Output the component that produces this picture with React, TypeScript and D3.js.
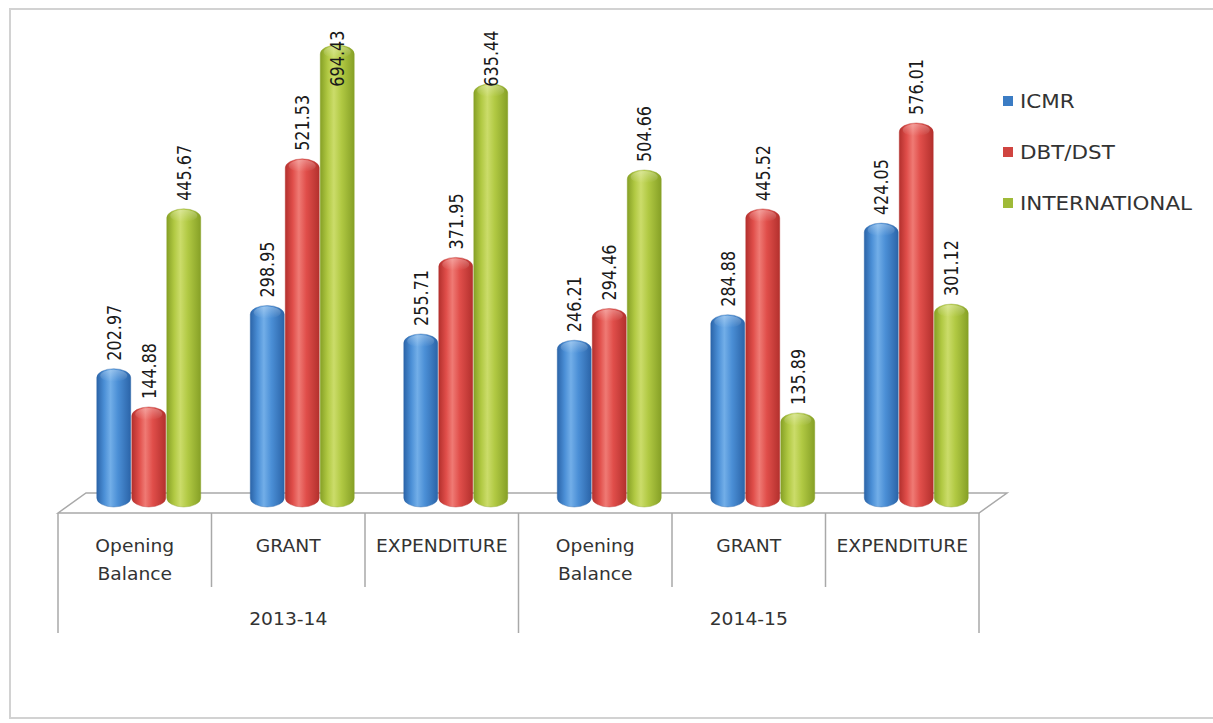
import React from "react";
import * as d3 from "d3";

// Funding by source, two financial years, three heads each
const years = ["2013-14", "2014-15"];
const heads = ["Opening Balance", "GRANT", "EXPENDITURE"];
const categories = ["2013-14|Opening Balance", "2013-14|GRANT", "2013-14|EXPENDITURE", "2014-15|Opening Balance", "2014-15|GRANT", "2014-15|EXPENDITURE"];
const seriesNames = ["ICMR", "DBT/DST", "INTERNATIONAL"];
const icmr = [202.97, 298.95, 255.71, 246.21, 284.88, 424.05];
const dbtDst = [144.88, 521.53, 371.95, 294.46, 445.52, 576.01];
const international = [445.67, 694.43, 635.44, 504.66, 135.89, 301.12];
const seriesValues = [icmr, dbtDst, international];

const palettes = [
  { id: "cylBlue", edge: "#2b64a8", mid: "#4b8fd6", hi: "#72aee8", swatch: "#3b7cc4" },
  { id: "cylRed", edge: "#b3302d", mid: "#e04e4a", hi: "#ef7a74", swatch: "#d04440" },
  { id: "cylGreen", edge: "#86a026", mid: "#b1c943", hi: "#cbdc6a", swatch: "#9fba38" },
];

const W = 1213;
const H = 723;
const FONT = "'DejaVu Sans', sans-serif";
const GRID = "#a9a9a9";
const STRETCH = 1.1;

export default function App() {
  // floor geometry
  const frontLeft = 58;
  const frontRight = 979;
  const frontY = 513;
  const depthX = 28;
  const depthY = 20;

  const x0 = d3.scaleBand<string>().domain(categories).range([frontLeft, frontRight]).padding(0);
  const groupW = 105;
  const x1 = d3.scaleBand<string>().domain(seriesNames).range([0, groupW]).padding(0);
  const y = d3.scaleLinear().domain([0, 700]).range([502.4, 502.4 - 700 * 0.6587]);

  const barBottom = 507;
  const capRy = 9;
  const labelSize = 16;
  const plotTop = 30;

  const yearScale = d3.scaleBand<string>().domain(years).range([frontLeft, frontRight]);

  return (
    <svg width={W} height={H} style={{ position: "absolute", left: 0, top: 0, background: "#fff" }} fontFamily={FONT}>
      <defs>
        {palettes.map((p) => (
          <linearGradient key={p.id} id={p.id} x1="0" x2="1" y1="0" y2="0">
            <stop offset="0%" stopColor={p.edge} />
            <stop offset="22%" stopColor={p.mid} />
            <stop offset="40%" stopColor={p.hi} />
            <stop offset="62%" stopColor={p.mid} />
            <stop offset="100%" stopColor={p.edge} />
          </linearGradient>
        ))}
        <linearGradient id="capShine" x1="0" x2="0" y1="0" y2="1">
          <stop offset="0%" stopColor="#fff" stopOpacity={0.3} />
          <stop offset="100%" stopColor="#fff" stopOpacity={0} />
        </linearGradient>
      </defs>

      {/* chart frame */}
      <rect x={10} y={9} width={1230} height={709} fill="none" stroke="#d2d2d2" strokeWidth={2} />

      {/* floor plane */}
      <path
        d={`M${frontLeft},${frontY} L${frontLeft + depthX},${frontY - depthY} L${frontRight + depthX},${frontY - depthY} L${frontRight},${frontY} Z`}
        fill="#fff"
        stroke={GRID}
        strokeWidth={1.5}
      />

      {/* bars */}
      {categories.map((c, ci) => {
        const gx = (x0(c) as number) + (x0.bandwidth() - groupW) / 2 + depthX / 2;
        return (
          <g key={c} transform={`translate(${gx},0)`}>
            {seriesNames.map((s, si) => {
              const v = seriesValues[si][ci];
              const bx = x1(s) as number;
              const bw = x1.bandwidth();
              const top = y(v);
              const p = palettes[si];
              return (
                <g key={s}>
                  <rect x={bx + 0.5} y={top} width={bw - 1} height={barBottom - top} rx={bw / 2 - 0.5} ry={capRy} fill={`url(#${p.id})`} stroke={p.edge} strokeOpacity={0.5} strokeWidth={0.8} />
                  <rect x={bx + 4} y={top + 1} width={bw - 8} height={12} rx={(bw - 8) / 2} ry={6} fill="url(#capShine)" />
                </g>
              );
            })}
          </g>
        );
      })}

      {/* value labels */}
      {categories.map((c, ci) => {
        const gx = (x0(c) as number) + (x0.bandwidth() - groupW) / 2 + depthX / 2;
        return seriesNames.map((s, si) => {
          const v = seriesValues[si][ci];
          const cx = gx + (x1(s) as number) + x1.bandwidth() / 2;
          const text = v.toFixed(2);
          const len = text.length * labelSize * 0.59;
          const start = Math.max(y(v) - 8, plotTop + len);
          return (
            <text key={`${c}-${s}`} transform={`translate(${cx},${start}) rotate(-90) scale(1,1.25)`} dy="0.36em" fontSize={labelSize} fill="#1a1a1a">
              {text}
            </text>
          );
        });
      })}

      {/* category separators and labels */}
      {categories.map((c, ci) => {
        const left = x0(c) as number;
        const center = left + x0.bandwidth() / 2;
        const head = heads[ci % heads.length];
        const words = head === "Opening Balance" ? ["Opening", "Balance"] : [head];
        return (
          <g key={`lab-${c}`}>
            {ci % 3 !== 0 && <line x1={left} x2={left} y1={frontY} y2={587} stroke={GRID} strokeWidth={1.5} />}
            {words.map((w, wi) => (
              <text key={w} transform={`translate(${center},${552 + wi * 28}) scale(${STRETCH},1)`} textAnchor="middle" fontSize={17} fill="#333">
                {w}
              </text>
            ))}
          </g>
        );
      })}

      {/* year separators and labels */}
      {[frontLeft, yearScale("2014-15") as number, frontRight].map((xv, i) => (
        <line key={`ys-${i}`} x1={xv} x2={xv} y1={frontY} y2={633} stroke={GRID} strokeWidth={1.5} />
      ))}
      {years.map((yr) => (
        <text key={yr} transform={`translate(${(yearScale(yr) as number) + yearScale.bandwidth() / 2},625) scale(${STRETCH},1)`} textAnchor="middle" fontSize={17} fill="#333">
          {yr}
        </text>
      ))}

      {/* legend */}
      {seriesNames.map((s, i) => (
        <g key={`leg-${s}`} transform={`translate(1003,${101 + i * 51})`}>
          <rect x={0} y={-5} width={10} height={10} fill={palettes[i].swatch} />
          <text transform={`translate(17,0) scale(1.13,1)`} dy="0.36em" fontSize={19} fill="#333">
            {s}
          </text>
        </g>
      ))}
    </svg>
  );
}
